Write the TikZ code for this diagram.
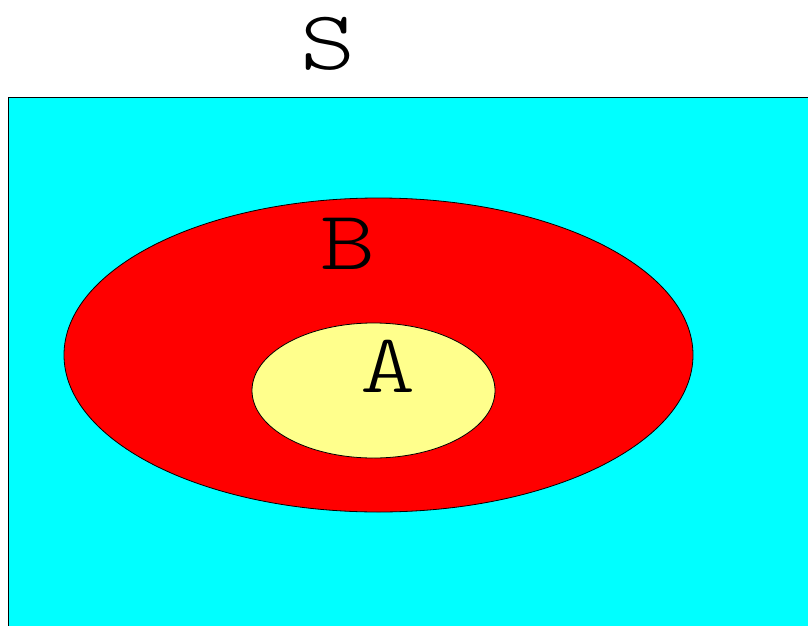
\documentclass[tikz,border=0pt]{standalone}
\usepackage{fontspec}
\newfontfamily\lblfont{Latin Modern Mono Light}
\definecolor{cyanfill}{RGB}{0,255,255}
\definecolor{redfill}{RGB}{255,0,0}
\definecolor{yellowfill}{RGB}{255,255,140}
\tikzset{
  region/.style={draw=black, line width=0.8pt},
  lbl/.style={font=\lblfont\fontsize{84}{84}\selectfont, inner sep=0pt, anchor=center, xscale=1.25}
}
\begin{document}
\begin{tikzpicture}[x=1pt,y=-1pt]
\useasboundingbox (0,0) rectangle (808,626);
\begin{scope}
\clip (0,0) rectangle (808,626);
\fill[white] (0,0) rectangle (808,626);
\draw[region, fill=cyanfill] (8,97) rectangle (830,650);
\draw[region, fill=redfill] (378.5,355) ellipse [x radius=314.5, y radius=157];
\draw[region, fill=yellowfill] (373.5,390.5) ellipse [x radius=121.5, y radius=67.5];
\end{scope}
\node[lbl] (S) at (328,44) {S};
\node[lbl] (B) at (348,244) {B};
\node[lbl] (A) at (388,366) {A};
\end{tikzpicture}
\end{document}
